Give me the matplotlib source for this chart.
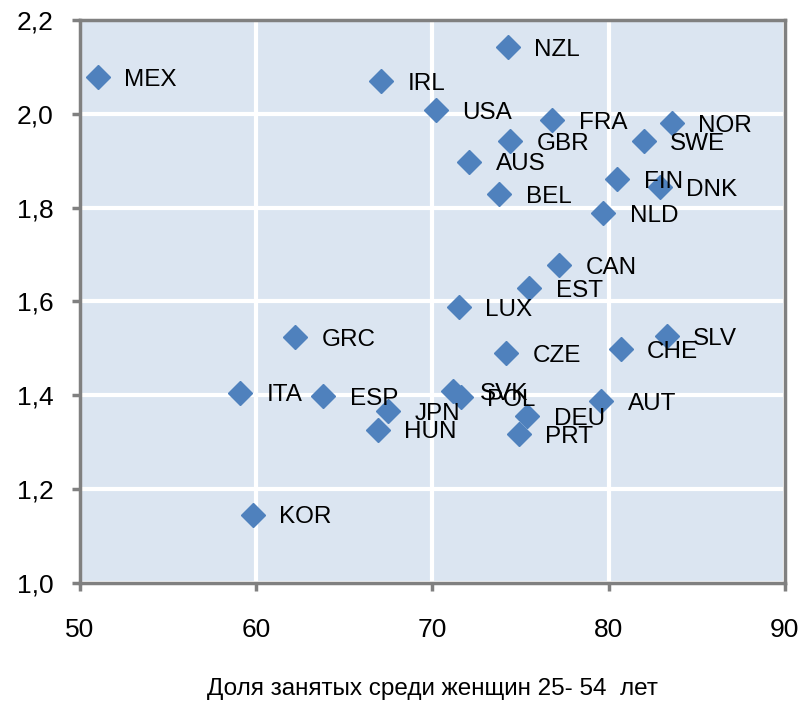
import matplotlib
matplotlib.use('Agg')
import matplotlib.pyplot as plt

countries = ['MEX', 'IRL', 'NZL', 'USA', 'FRA', 'NOR', 'GBR', 'SWE', 'AUS', 'FIN',
             'DNK', 'BEL', 'NLD', 'CAN', 'EST', 'LUX', 'GRC', 'SLV', 'CHE', 'CZE',
             'ITA', 'ESP', 'SVK', 'POL', 'AUT', 'JPN', 'DEU', 'HUN', 'PRT', 'KOR']
employment = [51.0, 67.1, 74.3, 70.2, 76.8, 83.6, 74.4, 82.0, 72.1, 80.5,
              82.9, 73.8, 79.7, 77.2, 75.5, 71.5, 62.2, 83.3, 80.7, 74.2,
              59.1, 63.8, 71.2, 71.6, 79.6, 67.5, 75.4, 66.9, 74.9, 59.8]
fertility = [2.078, 2.07, 2.142, 2.007, 1.986, 1.98, 1.941, 1.941, 1.898, 1.86,
             1.843, 1.828, 1.789, 1.678, 1.629, 1.588, 1.524, 1.526, 1.498, 1.49,
             1.406, 1.398, 1.409, 1.396, 1.387, 1.366, 1.355, 1.327, 1.317, 1.146]

xticks = [50, 60, 70, 80, 90]
yticks = [1.0, 1.2, 1.4, 1.6, 1.8, 2.0, 2.2]

plt.rcParams['font.family'] = ['Liberation Sans', 'DejaVu Sans']

fig = plt.figure(figsize=(8.04, 7.06), dpi=100)
ax = fig.add_axes([0.0995, 0.174, 0.8765, 0.798])
ax.set_facecolor('#DBE5F1')

ax.plot(employment, fertility, linestyle='none', marker='D', markersize=12,
        color='#4F81BD', zorder=3)
for name, xv, yv in zip(countries, employment, fertility):
    ax.annotate(name, (xv, yv), xytext=(19, -2), textcoords='offset points',
                ha='left', va='center', fontsize=17.5, color='black', zorder=4)

ax.set_xlim(50, 90)
ax.set_ylim(1.0, 2.2)
ax.set_xticks(xticks)
ax.set_yticks(yticks)
ax.set_xticklabels([str(t) for t in xticks])
ax.set_yticklabels([('%.1f' % t).replace('.', ',') for t in yticks])
ax.grid(True, color='white', linewidth=3)
ax.set_axisbelow(True)

for s in ax.spines.values():
    s.set_color('#808080')
    s.set_linewidth(2.5)
ax.tick_params(axis='both', colors='#808080', length=6, width=2.5, labelsize=19,
               labelcolor='black')
ax.tick_params(axis='x', pad=19)
ax.tick_params(axis='y', pad=13)

ax.set_xlabel('Доля занятых среди женщин 25- 54  лет', fontsize=17.5, labelpad=26)

fig.savefig('out.png', dpi=100)
